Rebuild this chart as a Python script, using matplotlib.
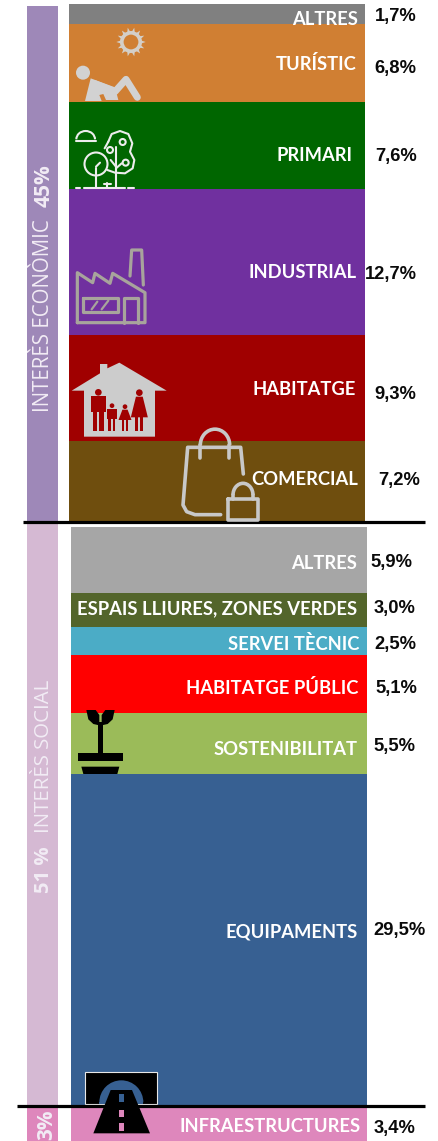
import math
import matplotlib
matplotlib.use("Agg")
import matplotlib.pyplot as plt
from matplotlib.patches import Polygon, Circle, Rectangle, Wedge, Arc, Ellipse

# ---------- data ----------
econ_labels = ["ALTRES", "TURÍSTIC", "PRIMARI", "INDUSTRIAL", "HABITATGE", "COMERCIAL"]
econ_values = [1.7, 6.8, 7.6, 12.7, 9.3, 7.2]
econ_colors = ["#808080", "#D07F33", "#006600", "#70309F", "#A00000", "#6F4E0E"]
soc_labels = ["ALTRES", "ESPAIS LLIURES, ZONES VERDES", "SERVEI TÈCNIC", "HABITATGE PÚBLIC",
              "SOSTENIBILITAT", "EQUIPAMENTS", "INFRAESTRUCTURES"]
soc_values = [5.9, 3.0, 2.5, 5.1, 5.5, 29.5, 3.4]
soc_colors = ["#A6A6A6", "#53652B", "#4BACC6", "#FF0000", "#9BBB59", "#376092", "#DE87BC"]

W, H = 439, 1141
DPI = 100
LABEL_FONT = "Lato"
PCT_FONT = "Liberation Sans"
fig = plt.figure(figsize=(W / DPI, H / DPI), dpi=DPI, facecolor="white")

def px_axes(x0, y0, x1, y1):
    return fig.add_axes([x0 / W, 1 - y1 / H, (x1 - x0) / W, (y1 - y0) / H])

# stacked bars, each group on its own axes, value axis running downwards
ax_e = px_axes(69, 4, 365, 524)
bottom = 0
for v, c in zip(econ_values, econ_colors):
    ax_e.bar(0, v, 1, bottom=bottom, color=c, align="edge", linewidth=0)
    bottom += v
ax_e.set_xlim(0, 1)
ax_e.set_ylim(sum(econ_values), 0)
ax_e.axis("off")

social_px_per_unit = (1106 - 527) / sum(soc_values[:-1])
ax_s = px_axes(71, 527, 367, 1141)
bottom = 0
for i, (v, c) in enumerate(zip(soc_values, soc_colors)):
    if i == len(soc_values) - 1:
        bottom += 0.2
    ax_s.bar(0, v, 1, bottom=bottom, color=c, align="edge", linewidth=0)
    bottom += v
ax_s.set_xlim(0, 1)
ax_s.set_ylim((1141 - 527) / social_px_per_unit, 0)
ax_s.axis("off")

# overlay in pixel coordinates for side bands, icons, texts
ov = fig.add_axes([0, 0, 1, 1], zorder=5)
ov.set_xlim(0, W)
ov.set_ylim(H, 0)
ov.axis("off")
ov.patch.set_alpha(0)

ov.add_patch(Rectangle((27, 6), 31, 515, fc="#9E88B8", lw=0))
ov.add_patch(Rectangle((27, 522), 31, 585, fc="#D5B9D3", lw=0))
ov.add_patch(Rectangle((27, 1108), 31, 33, fc="#DE87BC", lw=0))

BAND = "#F2ECF5"
ov.text(44, 412, "INTERÈS ECONÒMIC", rotation=90, ha="center", va="bottom", color=BAND,
        fontsize=14.8, family="Open Sans")
ov.text(44, 207, "45%", rotation=90, ha="center", va="bottom", color=BAND,
        fontsize=15, family="Open Sans", fontweight="bold")
ov.text(44, 833, "INTERÈS SOCIAL", rotation=90, ha="center", va="bottom", color=BAND,
        fontsize=14.7, family="Open Sans")
ov.text(44, 893, "51 %", rotation=90, ha="center", va="bottom", color=BAND,
        fontsize=14.6, family="Open Sans", fontweight="bold")
ov.text(47, 1140, "3%", rotation=90, ha="center", va="bottom", color=BAND,
        fontsize=15, family="Open Sans", fontweight="bold")

# separators
ov.plot([23, 425], [521.5, 521.5], color="black", lw=2.3, solid_capstyle="butt", zorder=8)
ov.plot([17, 425], [1106, 1106], color="black", lw=2.3, solid_capstyle="butt", zorder=8)

# text positions
econ_label_right = [358, 357, 353, 357, 356, 358]
econ_label_y = [18, 63, 154, 271, 388, 478]
econ_pct_x = [375, 374, 375, 365, 374, 378]
econ_pct_y = [15, 66, 155, 272, 392, 479]
soc_label_right = [357, 357, 359, 358, 358, 358, 361]
soc_label_y = [562, 607, 642, 687, 748, 930, 1125]
soc_pct_x = [370, 374, 374, 375, 373, 373, 374]
soc_pct_y = [561, 607, 643, 687, 744, 929, 1126]

for labs, vals, rx, ly, px, py in [
    (econ_labels, econ_values, econ_label_right, econ_label_y, econ_pct_x, econ_pct_y),
    (soc_labels, soc_values, soc_label_right, soc_label_y, soc_pct_x, soc_pct_y),
]:
    for lab, v, r, y, x, yy in zip(labs, vals, rx, ly, px, py):
        ov.text(r, y, lab, ha="right", va="center_baseline", color="white",
                fontsize=13.2, family=LABEL_FONT, fontweight="bold", zorder=9)
        ov.text(x, yy, f"{v:.1f}%".replace(".", ","), ha="left", va="center_baseline",
                color="#0A0A0A", fontsize=13.2, family=PCT_FONT, fontweight="bold", zorder=9)

# ---------- icons (drawn from 3x-crop coordinates) ----------
def Z(pts, yoff=0):
    return [(x / 3, y / 3 + yoff) for x, y in pts]

def stroke(pts, color, lw, yoff=0, closed=False, z=6, cap="round"):
    p = Z(pts, yoff)
    if closed:
        p = p + [p[0]]
    ov.plot([a for a, _ in p], [b for _, b in p], color=color, lw=lw,
            solid_capstyle=cap, solid_joinstyle="round", zorder=z)

def fill(pts, color, yoff=0, z=6):
    ov.add_patch(Polygon(Z(pts, yoff), closed=True, fc=color, ec="none", zorder=z))

def arc(cx, cy, w, h, t1, t2, color, lw, yoff=0, z=6):
    # the y axis is inverted, so angles run clockwise on screen
    ov.add_patch(Arc((cx / 3, cy / 3 + yoff), w / 3, h / 3, theta1=t1, theta2=t2,
                     color=color, lw=lw, zorder=z))

# sun
SUNC = "#D4CFC8"
for k in range(14):
    t = 2 * math.pi * k / 14
    t1, t2 = t - 0.16, t + 0.16
    fill([(393 + 30 * math.cos(t1), 126 + 30 * math.sin(t1)),
          (393 + 44 * math.cos(t), 126 + 44 * math.sin(t)),
          (393 + 30 * math.cos(t2), 126 + 30 * math.sin(t2))], SUNC)
ov.add_patch(Circle((393 / 3, 126 / 3), 9.2, fc="none", ec=SUNC, lw=2.6, zorder=6))

# person
PC = "#D2D2D2"
ov.add_patch(Circle((249 / 3, 218 / 3), 7, fc=PC, ec="none", zorder=6))
stroke([(282, 250), (345, 275), (378, 238), (412, 292)], PC, 5.0)
fill([(272, 235), (345, 262), (355, 300), (318, 300), (310, 282), (298, 285), (305, 303), (255, 303)], PC)

# trees
TC = "#EDEDED"
lw_t = 1.5
arc(257, 418, 56, 50, 180, 360, TC, lw_t)
stroke([(228, 422), (287, 422)], TC, lw_t)
ov.add_patch(Circle((288 / 3, 492 / 3), 11.5, fc="#006600", ec=TC, lw=lw_t, zorder=6))
stroke([(288, 528), (288, 560)], TC, lw_t, z=7)
stroke([(288, 505), (288, 528)], TC, lw_t, z=7)
stroke([(288, 500), (300, 488)], TC, lw_t, z=7)
tree_outline = [(325, 425), (335, 402), (360, 393), (385, 402), (397, 430), (390, 455), (403, 480),
                (398, 505), (375, 520), (345, 518), (322, 510)]
stroke(tree_outline, TC, lw_t, z=7)
stroke([(325, 425), (314, 445)], TC, lw_t, z=7)
stroke([(348, 440), (348, 560)], TC, lw_t, z=7)
stroke([(348, 500), (332, 480)], TC, lw_t, z=7)
stroke([(348, 505), (365, 490)], TC, lw_t, z=7)
for cx, cy in [(368, 426), (330, 450), (377, 488)]:
    ov.add_patch(Circle((cx / 3, cy / 3), 3, fc="none", ec=TC, lw=lw_t, zorder=7))
stroke([(228, 563), (240, 563)], TC, lw_t)
stroke([(252, 563), (375, 563)], TC, lw_t)
stroke([(385, 563), (402, 563)], TC, lw_t)
stroke([(322, 548), (322, 560)], TC, lw_t)
stroke([(312, 553), (332, 553)], TC, lw_t)

# factory
FC = "#A8A49C"
lw_f = 2.3
stroke([(232, 968), (232, 818), (278, 848), (285, 820), (330, 850), (338, 820), (435, 878), (435, 968)],
       FC, lw_f, closed=True)
stroke([(390, 828), (395, 750), (425, 750), (430, 855)], FC, lw_f)
stroke([(250, 895), (355, 895), (355, 935), (250, 935)], FC, lw_f, closed=True)
stroke([(372, 968), (372, 895), (415, 895), (415, 968)], FC, lw_f)
stroke([(275, 928), (292, 905)], FC, 1.6)
stroke([(305, 928), (325, 902)], FC, 1.6)

# house (crop 2 starts at y=340)
HC = "#CCCCCC"
RED = "#A00000"
fill([(215, 152), (300, 100), (300, 72), (322, 72), (322, 85), (358, 68), (500, 152), (465, 152),
      (465, 290), (252, 290), (252, 152)], HC, 340)

def person(cx, head_y, head_r, sh_w, hip_y, foot_y, skirt=False):
    ov.add_patch(Circle((cx / 3, head_y / 3 + 340), head_r / 3, fc=RED, ec="none", zorder=7))
    top = head_y + head_r + 2
    if skirt:
        fill([(cx - sh_w * .6, top), (cx + sh_w * .6, top), (cx + sh_w * 1.5, hip_y), (cx - sh_w * 1.5, hip_y)],
             RED, 340, z=7)
    else:
        fill([(cx - sh_w, top), (cx + sh_w, top), (cx + sh_w, hip_y), (cx - sh_w, hip_y)], RED, 340, z=7)
    leg = sh_w * .55
    fill([(cx - sh_w * .7, hip_y), (cx - sh_w * .7 + leg, hip_y),
          (cx - sh_w * .7 + leg, foot_y), (cx - sh_w * .7, foot_y)], RED, 340, z=7)
    fill([(cx + sh_w * .7, hip_y), (cx + sh_w * .7 - leg, hip_y),
          (cx + sh_w * .7 - leg, foot_y), (cx + sh_w * .7, foot_y)], RED, 340, z=7)

person(295, 157, 10, 23, 215, 272)
person(336, 197, 7, 15, 238, 272)
person(375, 200, 7, 13, 240, 272, skirt=True)
person(418, 158, 10, 17, 232, 272, skirt=True)

# bag + lock
BC = "#C8C8C8"
lw_b = 2.6
stroke([(662, 524), (585, 524), (560, 515), (549, 495), (563, 322), (722, 322), (730, 402)], BC, lw_b, 340)
arc(645, 315, 88, 95, 180, 360, BC, lw_b, 340)
stroke([(601, 315), (601, 355)], BC, lw_b, 340)
stroke([(688, 315), (688, 355)], BC, lw_b, 340)
stroke([(684, 478), (775, 478), (775, 540), (684, 540)], BC, lw_b, 340, closed=True, z=9)
arc(729, 465, 60, 70, 180, 360, BC, lw_b, 340)
stroke([(699, 465), (699, 478)], BC, lw_b, 340)
stroke([(759, 465), (759, 478)], BC, lw_b, 340)

# plant (crop 3 starts at y=620)
K = "black"
fill([(233, 400), (369, 400), (369, 422), (233, 422)], K, 620)
fill([(244, 440), (358, 440), (352, 462), (250, 462)], K, 620)
fill([(295, 305), (308, 305), (308, 400), (295, 400)], K, 620)
fill([(259, 270), (287, 270), (298, 285), (298, 316), (280, 312), (265, 298)], K, 620)
fill([(344, 270), (316, 270), (305, 285), (305, 316), (323, 312), (338, 298)], K, 620)

# tunnel (crop 4 starts at y=1040)
ov.add_patch(Rectangle((256 / 3, 95 / 3 + 1040), 216 / 3, 96 / 3, fc=K, ec="#E8E8E8", lw=0.8, zorder=6))
ov.add_patch(Wedge((364 / 3, 187 / 3 + 1040), 66 / 3, 180, 360, fc="#376092", ec="none", zorder=7))
ov.add_patch(Rectangle((298 / 3, 187 / 3 + 1040), 132 / 3, 6 / 3, fc="#376092", ec="none", zorder=7))
fill([(332, 150), (396, 150), (450, 280), (280, 280)], K, 1040, z=9)
for y0, y1, c in [(163, 185, "#376092"), (210, 232, "#DE87BC"), (250, 272, "#DE87BC")]:
    fill([(358, y0), (371, y0), (371, y1), (358, y1)], c, 1040, z=10)

fig.savefig("out.png", dpi=DPI)
